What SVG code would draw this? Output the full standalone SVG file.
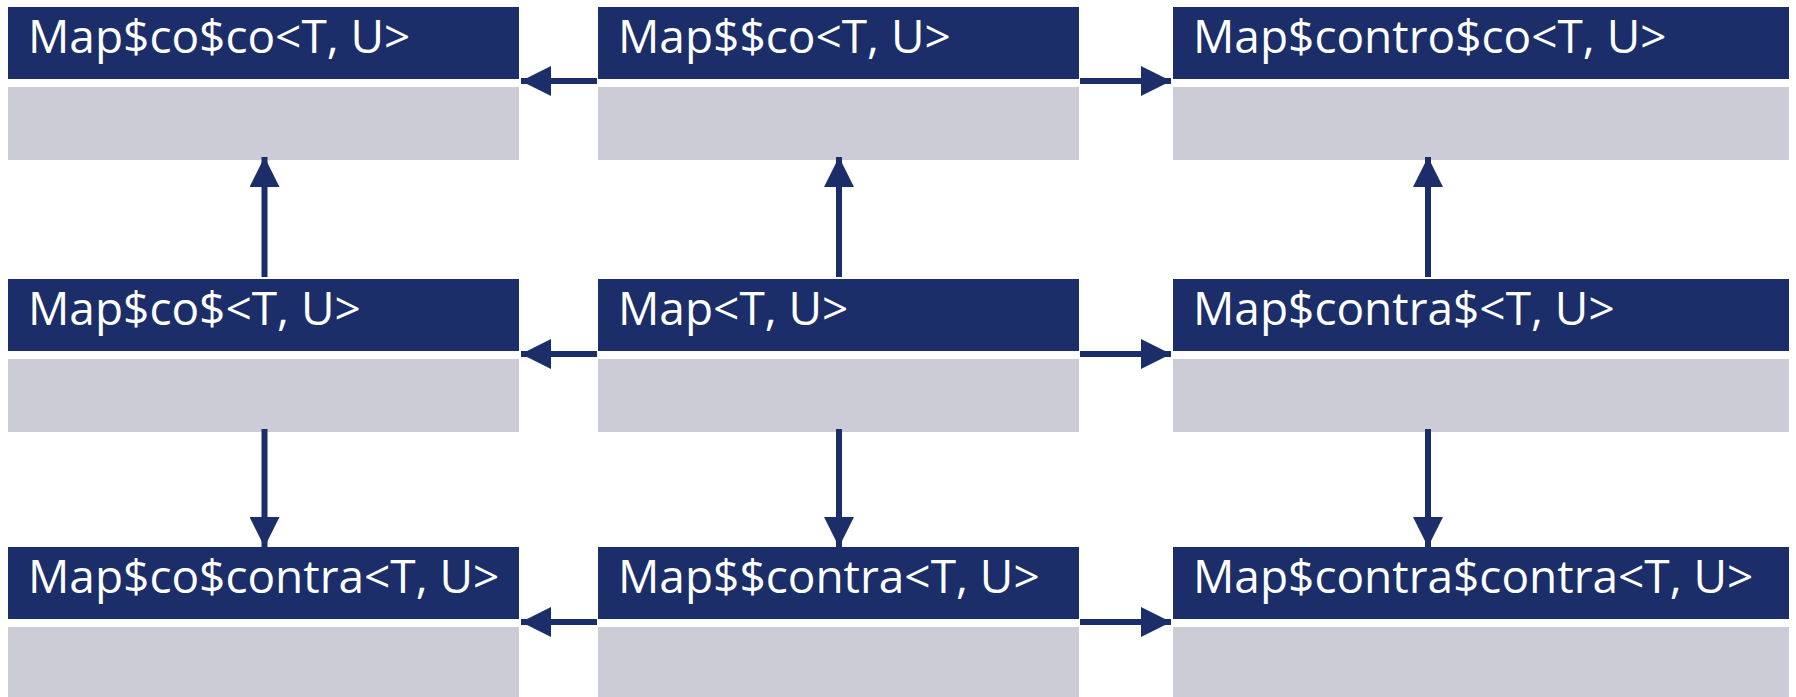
<svg xmlns="http://www.w3.org/2000/svg" width="1796" height="697" viewBox="0 0 1796 697">
  <style>
    .head { fill: #1b2e69; }
    .body { fill: #cbccd6; }
    .label { font-family: "Open Sans", "Noto Sans", sans-serif; font-size: 46px; font-weight: 500; fill: #ffffff; }
    .edge { stroke: #1b2e69; stroke-width: 6; fill: none; }
  </style>
  <defs>
    <marker id="arrow" viewBox="0 0 30 30" refX="30" refY="15" markerWidth="30" markerHeight="30" markerUnits="userSpaceOnUse" orient="auto">
      <path d="M0,0 L30,15 L0,30 Z" fill="#1b2e69"/>
    </marker>
  </defs>

  <!-- row 1 -->
  <g id="map-co-co">
    <rect class="head" x="8" y="7" width="511" height="72"/>
    <rect class="body" x="8" y="87" width="511" height="73"/>
    <text class="label" x="28" y="53">Map$co$co&lt;T, U&gt;</text>
  </g>
  <g id="map--co">
    <rect class="head" x="598" y="7" width="481" height="72"/>
    <rect class="body" x="598" y="87" width="481" height="73"/>
    <text class="label" x="618" y="53">Map$$co&lt;T, U&gt;</text>
  </g>
  <g id="map-contro-co">
    <rect class="head" x="1173" y="7" width="616" height="72"/>
    <rect class="body" x="1173" y="87" width="616" height="73"/>
    <text class="label" x="1193" y="53">Map$contro$co&lt;T, U&gt;</text>
  </g>

  <!-- row 2 -->
  <g id="map-co-">
    <rect class="head" x="8" y="279" width="511" height="72"/>
    <rect class="body" x="8" y="359" width="511" height="73"/>
    <text class="label" x="28" y="325">Map$co$&lt;T, U&gt;</text>
  </g>
  <g id="map">
    <rect class="head" x="598" y="279" width="481" height="72"/>
    <rect class="body" x="598" y="359" width="481" height="73"/>
    <text class="label" x="618" y="325">Map&lt;T, U&gt;</text>
  </g>
  <g id="map-contra-">
    <rect class="head" x="1173" y="279" width="616" height="72"/>
    <rect class="body" x="1173" y="359" width="616" height="73"/>
    <text class="label" x="1193" y="325">Map$contra$&lt;T, U&gt;</text>
  </g>

  <!-- row 3 -->
  <g id="map-co-contra">
    <rect class="head" x="8" y="547" width="511" height="72"/>
    <rect class="body" x="8" y="627" width="511" height="73"/>
    <text class="label" x="28" y="593">Map$co$contra&lt;T, U&gt;</text>
  </g>
  <g id="map--contra">
    <rect class="head" x="598" y="547" width="481" height="72"/>
    <rect class="body" x="598" y="627" width="481" height="73"/>
    <text class="label" x="618" y="593">Map$$contra&lt;T, U&gt;</text>
  </g>
  <g id="map-contra-contra">
    <rect class="head" x="1173" y="547" width="616" height="72"/>
    <rect class="body" x="1173" y="627" width="616" height="73"/>
    <text class="label" x="1193" y="593">Map$contra$contra&lt;T, U&gt;</text>
  </g>

  <!-- connectors -->
  <g id="connectors">
    <!-- horizontal, from the centre column outwards -->
    <line class="edge" x1="597" y1="81" x2="521" y2="81" marker-end="url(#arrow)"/>
    <line class="edge" x1="1080" y1="81" x2="1171" y2="81" marker-end="url(#arrow)"/>
    <line class="edge" x1="597" y1="354" x2="521" y2="354" marker-end="url(#arrow)"/>
    <line class="edge" x1="1080" y1="354" x2="1171" y2="354" marker-end="url(#arrow)"/>
    <line class="edge" x1="597" y1="622" x2="521" y2="622" marker-end="url(#arrow)"/>
    <line class="edge" x1="1080" y1="622" x2="1171" y2="622" marker-end="url(#arrow)"/>
    <!-- vertical, from the middle row up and down -->
    <line class="edge" x1="264.5" y1="277" x2="264.5" y2="157" marker-end="url(#arrow)"/>
    <line class="edge" x1="839" y1="277" x2="839" y2="157" marker-end="url(#arrow)"/>
    <line class="edge" x1="1428" y1="277" x2="1428" y2="157" marker-end="url(#arrow)"/>
    <line class="edge" x1="264.5" y1="429" x2="264.5" y2="547" marker-end="url(#arrow)"/>
    <line class="edge" x1="839" y1="429" x2="839" y2="547" marker-end="url(#arrow)"/>
    <line class="edge" x1="1428" y1="429" x2="1428" y2="547" marker-end="url(#arrow)"/>
  </g>
</svg>
